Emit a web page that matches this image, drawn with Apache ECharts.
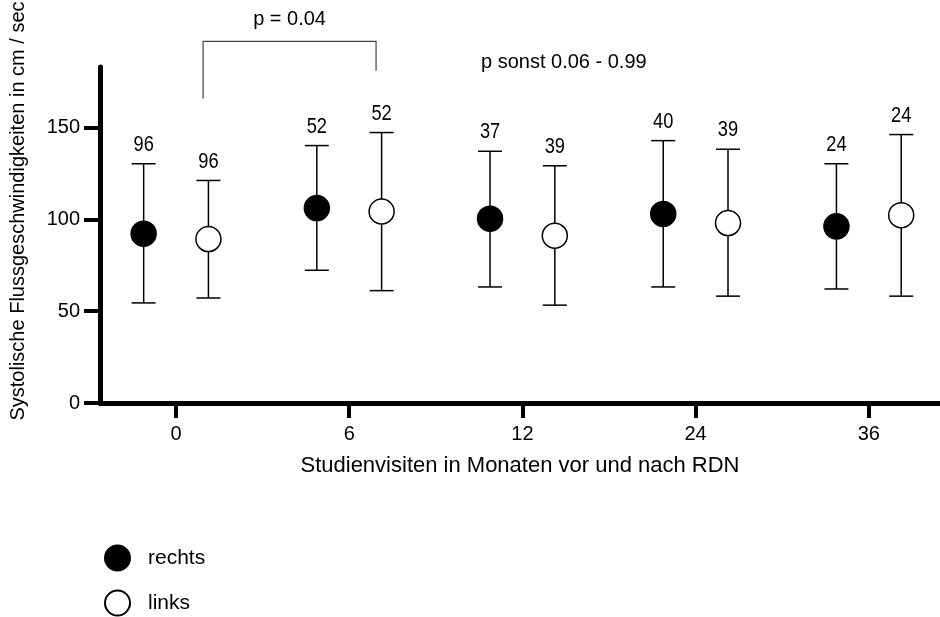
<!DOCTYPE html>
<html>
<head>
<meta charset="utf-8">
<script src="https://cdn.jsdelivr.net/npm/echarts@6/dist/echarts.min.js"></script>
<style>
  html, body { margin: 0; padding: 0; background: #fff; }
  #chart { width: 940px; height: 617px; }
</style>
</head>
<body>
<div id="chart"></div>
<script>
// Study visits (months before / after RDN)
const visits = ['0', '6', '12', '24', '36'];

// Systolic flow velocity (cm/s): mean with lower / upper whisker, and n per visit
const rechtsMean  = [92.2, 106.2, 100.4, 103.0, 96.2];
const rechtsLower = [54.5, 72.3, 63.2, 63.2, 62.1];
const rechtsUpper = [130.3, 140.2, 137.1, 142.9, 130.3];
const rechtsN     = [96, 52, 37, 40, 24];

const linksMean  = [89.3, 104.3, 91.1, 98.0, 102.3];
const linksLower = [57.2, 61.2, 53.3, 58.2, 58.2];
const linksUpper = [121.2, 147.3, 129.2, 138.2, 146.2];
const linksN     = [96, 52, 39, 39, 24];

const yTicks = [0, 50, 100, 150];

// significance bracket between visit 0 and 6 (left side)
const bracketLeft  = [0.156, 165.8];
const bracketTop   = 197;
const bracketRight = [1.155, 181];

const DODGE = 0.187;
const SANS = '"Liberation Sans", Arial, sans-serif';

const chart = echarts.init(document.getElementById('chart'), null, { renderer: 'canvas' });

function xsFor(offset) { return visits.map((_, i) => i + offset); }

function errorData(offset, lower, upper, n) {
  return visits.map((_, i) => [i + offset, lower[i], upper[i], n[i]]);
}

function renderError(params, api) {
  const x = api.value(0);
  const top = api.coord([x, api.value(2)]);
  const bot = api.coord([x, api.value(1)]);
  const half = 12;
  const ls = { stroke: '#000', lineWidth: 1.5 };
  return {
    type: 'group',
    children: [
      { type: 'line', shape: { x1: top[0], y1: top[1], x2: bot[0], y2: bot[1] }, style: ls },
      { type: 'line', shape: { x1: top[0] - half, y1: top[1], x2: top[0] + half, y2: top[1] }, style: ls },
      { type: 'line', shape: { x1: bot[0] - half, y1: bot[1], x2: bot[0] + half, y2: bot[1] }, style: ls },
      { type: 'text', x: top[0], y: top[1] - 8, scaleX: 0.83,
        style: {
          text: String(api.value(3)), x: 0, y: 0,
          align: 'center', verticalAlign: 'bottom',
          fontSize: 22, fontFamily: SANS, fill: '#000'
      } }
    ]
  };
}

const legendText = { fontSize: 21, fontFamily: SANS, color: '#000', padding: [0, 0, 0, 13] };

const option = {
  animation: false,
  backgroundColor: '#fff',
  grid: { left: 100, right: 0, top: 67, bottom: 214, containLabel: false },
  xAxis: {
    type: 'value',
    min: -0.439,
    max: 4.411,
    splitLine: { show: false },
    axisLine: { show: true, onZero: false, lineStyle: { color: '#000', width: 5 } },
    axisTick: { show: true, customValues: [0, 1, 2, 3, 4], length: 15, lineStyle: { color: '#000', width: 4 } },
    axisLabel: {
      customValues: [0, 1, 2, 3, 4],
      formatter: v => visits[Math.round(v)],
      fontSize: 20, fontFamily: SANS, color: '#000', margin: 21
    },
    name: 'Studienvisiten in Monaten vor und nach RDN',
    nameLocation: 'middle',
    nameGap: 52,
    nameTextStyle: { fontSize: 22, fontFamily: SANS, color: '#000' }
  },
  yAxis: {
    type: 'value',
    min: 0,
    max: 183,
    splitLine: { show: false },
    axisLine: { show: true, onZero: false, lineStyle: { color: '#000', width: 5 } },
    axisTick: { show: true, customValues: yTicks, length: 16, lineStyle: { color: '#000', width: 4 } },
    axisLabel: {
      customValues: yTicks,
      fontSize: 20, fontFamily: SANS, color: '#000', margin: 20
    }
  },
  legend: [
    {
      left: 99, top: 539.5, itemWidth: 25, itemHeight: 25, icon: 'circle',
      data: ['rechts'], textStyle: legendText
    },
    {
      left: 99, top: 584.5, itemWidth: 25, itemHeight: 25, icon: 'circle',
      data: ['links'], textStyle: legendText
    }
  ],
  series: [
    {
      name: 'rechts-err', type: 'custom', z: 1, clip: false,
      renderItem: renderError,
      data: errorData(-DODGE, rechtsLower, rechtsUpper, rechtsN)
    },
    {
      name: 'links-err', type: 'custom', z: 1, clip: false,
      renderItem: renderError,
      data: errorData(DODGE, linksLower, linksUpper, linksN)
    },
    {
      name: 'rechts', type: 'scatter', z: 3,
      symbol: 'circle', symbolSize: 25,
      itemStyle: { color: '#000', borderColor: '#000', borderWidth: 1.5, opacity: 1 },
      data: xsFor(-DODGE).map((x, i) => [x, rechtsMean[i]])
    },
    {
      name: 'links', type: 'scatter', z: 3,
      symbol: 'circle', symbolSize: 25,
      itemStyle: { color: '#fff', borderColor: '#000', borderWidth: 1.5, opacity: 1 },
      data: xsFor(DODGE).map((x, i) => [x, linksMean[i]])
    }
  ]
};

chart.setOption(option);

// annotations: y-axis title, significance bracket and p-values
const pL = chart.convertToPixel({ gridIndex: 0 }, bracketLeft);
const pLT = chart.convertToPixel({ gridIndex: 0 }, [bracketLeft[0], bracketTop]);
const pRT = chart.convertToPixel({ gridIndex: 0 }, [bracketRight[0], bracketTop]);
const pR = chart.convertToPixel({ gridIndex: 0 }, bracketRight);

chart.setOption({
  graphic: [
    {
      type: 'polyline',
      shape: { points: [pL, pLT, pRT, pR] },
      style: { stroke: '#444', lineWidth: 1.2, fill: null }
    },
    {
      type: 'text',
      x: (pLT[0] + pRT[0]) / 2, y: pLT[1] - 12,
      style: { text: 'p = 0.04', align: 'center', verticalAlign: 'bottom', fontSize: 20, fontFamily: SANS, fill: '#000' }
    },
    {
      type: 'text',
      x: 481, y: 62,
      style: { text: 'p sonst 0.06 - 0.99', align: 'left', verticalAlign: 'middle', fontSize: 20, fontFamily: SANS, fill: '#000' }
    },
    {
      type: 'text',
      x: 18, y: 211,
      rotation: Math.PI / 2,
      style: { text: 'Systolische Flussgeschwindigkeiten in cm / sec', align: 'center', verticalAlign: 'middle', fontSize: 20, fontFamily: SANS, fill: '#000' }
    }
  ]
});
</script>
</body>
</html>
